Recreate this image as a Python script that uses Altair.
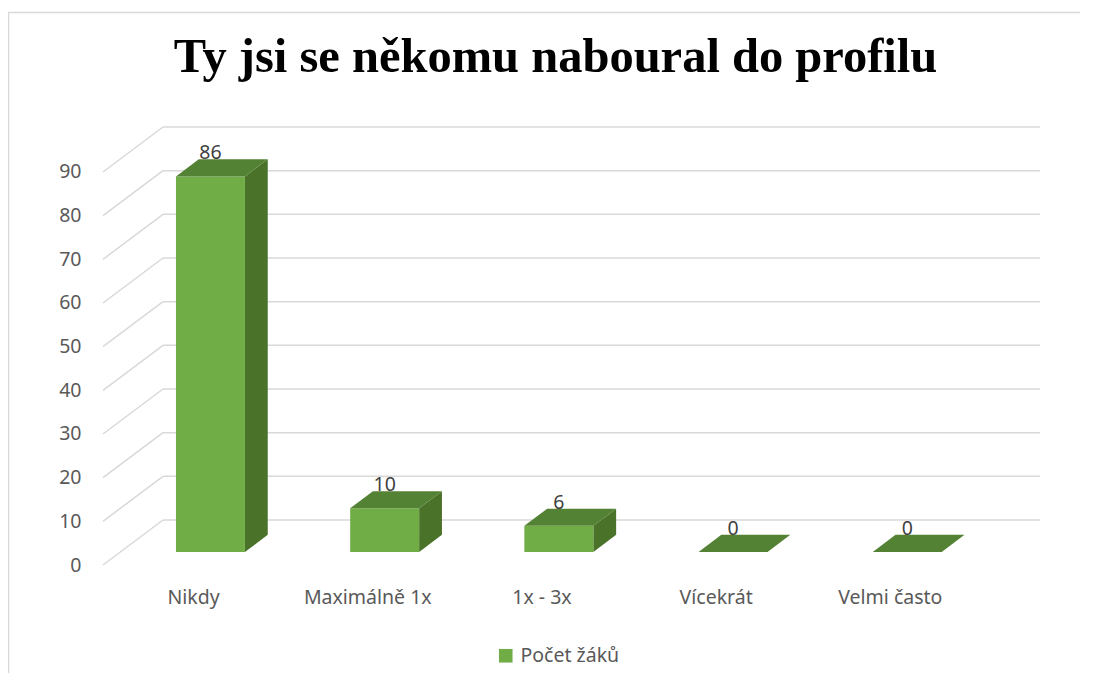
import altair as alt
import pandas as pd

# ---- data ----
categories = ["Nikdy", "Maximálně 1x", "1x - 3x", "Vícekrát", "Velmi často"]
values = [86, 10, 6, 0, 0]
y_ticks = [0, 10, 20, 30, 40, 50, 60, 70, 80, 90]
series_name = "Počet žáků"
title_text = "Ty jsi se někomu naboural do profilu"

# ---- pseudo-3D projection (category units / value units) ----
KX = 0.3444      # horizontal shift of full depth, in category units
KY = 10.3        # vertical shift of full depth, in value units
D0, D1 = 0.29, 0.67   # bar depth (front / back) as fraction of floor depth
HALF = 0.198     # half width of bar
X_LEFT = -0.517
X_RIGHT = 4.862
Y_TOP = max(y_ticks) + KY

FRONT = "#70AD47"
TOP = "#548235"
SIDE = "#4A7229"
GRID = "#D9D9D9"

front_rows, side_rows, top_rows, label_rows = [], [], [], []
for i, (c, v) in enumerate(zip(categories, values)):
    fx0, fy0 = KX * D0, KY * D0
    fx1, fy1 = KX * D1, KY * D1
    front_rows.append(dict(cat=c, series=series_name, x=i - HALF + fx0, x2=i + HALF + fx0, y=fy0, y2=v + fy0))
    side_rows.append(dict(cat=c, x=i + HALF + fx0, y=fy0, y2=v + fy0))
    side_rows.append(dict(cat=c, x=i + HALF + fx1, y=fy1, y2=v + fy1))
    top_rows.append(dict(cat=c, y=v + fy0, x=i - HALF + fx0, x2=i + HALF + fx0))
    top_rows.append(dict(cat=c, y=v + fy1, x=i - HALF + fx1, x2=i + HALF + fx1))
    label_rows.append(dict(x=i + fx0, y=v + fy1, text=str(v)))

front_df = pd.DataFrame(front_rows)
side_df = pd.DataFrame(side_rows)
top_df = pd.DataFrame(top_rows)
label_df = pd.DataFrame(label_rows)

back_df = pd.DataFrame([dict(x=X_LEFT + KX, x2=X_RIGHT, y=t + KY, y2=t + KY) for t in y_ticks])
diag_df = pd.DataFrame([dict(x=X_LEFT, x2=X_LEFT + KX, y=t, y2=t + KY) for t in y_ticks])

xs = alt.Scale(domain=[X_LEFT, X_RIGHT], nice=False, zero=False)
ys = alt.Scale(domain=[0, Y_TOP], nice=False, zero=False)

label_expr = "[" + ",".join("'" + c + "'" for c in categories) + "][datum.value]"

FONT = "Noto Sans"

border = alt.Chart(pd.DataFrame({"k": [0]})).mark_rect(
    fill=None, stroke=GRID, strokeWidth=1.5
).encode(x=alt.value(-94.5), x2=alt.value(1100), y=alt.value(-114.5), y2=alt.value(700))

grid_back = alt.Chart(back_df).mark_rule(color=GRID, strokeWidth=1.5).encode(
    x=alt.X("x:Q", scale=xs, axis=alt.Axis(values=list(range(len(categories))), labelExpr=label_expr,
                                          title=None, domain=False, ticks=False, grid=False,
                                          labelFont=FONT, labelFontSize=19.5, labelColor="#595959",
                                          labelPadding=23)),
    x2="x2:Q",
    y=alt.Y("y:Q", scale=ys, axis=alt.Axis(values=y_ticks, title=None, domain=False, ticks=False,
                                          grid=False, labelFont=FONT, labelFontSize=19.5,
                                          labelColor="#595959", labelPadding=22)),
    y2="y2:Q",
)
grid_diag = alt.Chart(diag_df).mark_rule(color=GRID, strokeWidth=1.5).encode(
    x=alt.X("x:Q", scale=xs), x2="x2:Q", y=alt.Y("y:Q", scale=ys), y2="y2:Q"
)

side = alt.Chart(side_df).mark_area(orient="vertical", color=SIDE).encode(
    x=alt.X("x:Q", scale=xs),
    y=alt.Y("y:Q", scale=ys, stack=None),
    y2="y2:Q",
    detail="cat:N",
)
top = alt.Chart(top_df).mark_area(orient="horizontal", color=TOP).encode(
    y=alt.Y("y:Q", scale=ys),
    x=alt.X("x:Q", scale=xs, stack=None),
    x2="x2:Q",
    detail="cat:N",
)
front = alt.Chart(front_df).mark_rect(strokeWidth=0).encode(
    x=alt.X("x:Q", scale=xs), x2="x2:Q",
    y=alt.Y("y:Q", scale=ys), y2="y2:Q",
    color=alt.Color("series:N", scale=alt.Scale(domain=[series_name], range=[FRONT]),
                    legend=alt.Legend(title=None, orient="none", legendX=393, legendY=519,
                                      symbolType="square", symbolSize=185, symbolStrokeWidth=0,
                                      labelFont=FONT, labelFontSize=19.5, labelColor="#595959",
                                      labelOffset=5)),
)
labels = alt.Chart(label_df).mark_text(
    font=FONT, fontSize=19.5, color="#404040", baseline="alphabetic", dy=0
).encode(x=alt.X("x:Q", scale=xs), y=alt.Y("y:Q", scale=ys), text="text:N")

chart = alt.layer(border, grid_back, grid_diag, side, front, top, labels).properties(
    width=937,
    height=438,
    autosize=alt.AutoSizeParams(type="none"),
    padding={"left": 95, "top": 119, "right": 40, "bottom": 108},
    title=alt.TitleParams(title_text, font="Liberation Serif", fontWeight="bold", fontSize=48.5,
                          color="#000000", anchor="middle", baseline="alphabetic", offset=-109, dx=-16),
).configure_view(stroke=None)

chart.save("out.html", embed_options={"renderer": "svg", "actions": False})
